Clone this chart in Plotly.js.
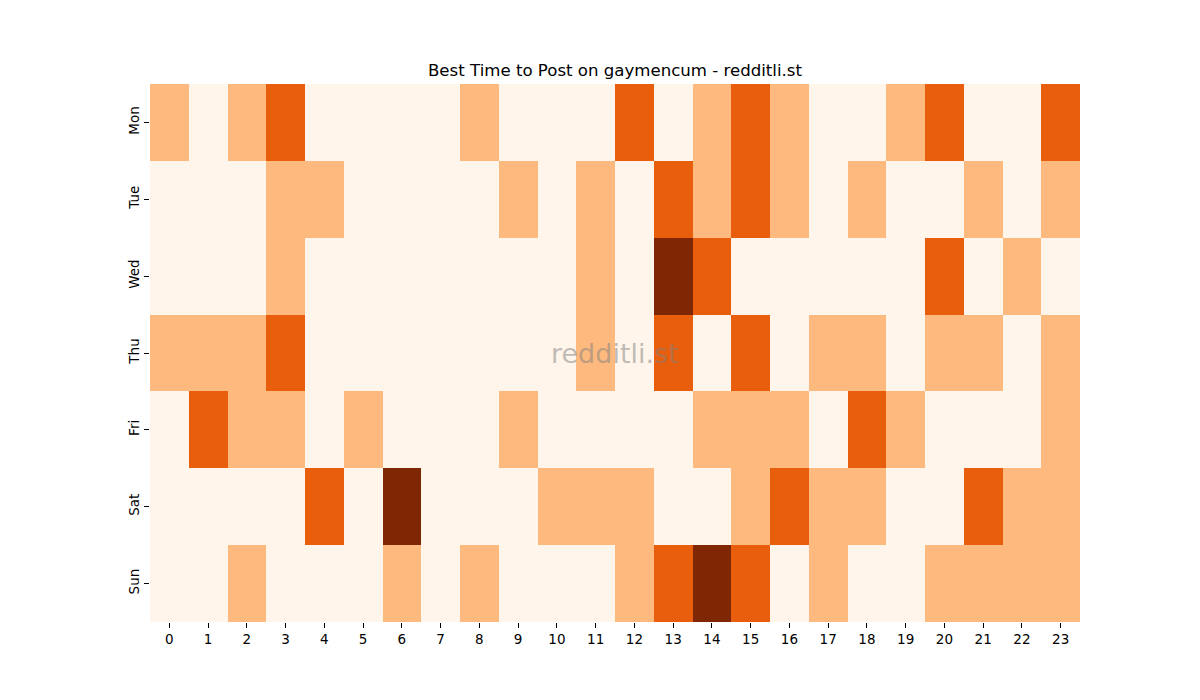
<!DOCTYPE html>
<html>
<head>
<meta charset="utf-8">
<script src="https://cdn.plot.ly/plotly-3.0.1.min.js"></script>
<style>
    body { margin: 0; background: #fff; }
    #graph { width: 1200px; height: 700px; }
</style>
</head>
<body>
<div id="graph"></div>
<script>
/* hours of the day and weekdays */
const hours = ["0", "1", "2", "3", "4", "5", "6", "7", "8", "9", "10", "11",
    "12", "13", "14", "15", "16", "17", "18", "19", "20", "21", "22", "23"];
const days = ["Mon", "Tue", "Wed", "Thu", "Fri", "Sat", "Sun"];

/* activity level per hour, 0 = low ... 3 = best */
const mon = [1, 0, 1, 2, 0, 0, 0, 0, 1, 0, 0, 0, 2, 0, 1, 2, 1, 0, 0, 1, 2, 0, 0, 2];
const tue = [0, 0, 0, 1, 1, 0, 0, 0, 0, 1, 0, 1, 0, 2, 1, 2, 1, 0, 1, 0, 0, 1, 0, 1];
const wed = [0, 0, 0, 1, 0, 0, 0, 0, 0, 0, 0, 1, 0, 3, 2, 0, 0, 0, 0, 0, 2, 0, 1, 0];
const thu = [1, 1, 1, 2, 0, 0, 0, 0, 0, 0, 0, 1, 0, 2, 0, 2, 0, 1, 1, 0, 1, 1, 0, 1];
const fri = [0, 2, 1, 1, 0, 1, 0, 0, 0, 1, 0, 0, 0, 0, 1, 1, 1, 0, 2, 1, 0, 0, 0, 1];
const sat = [0, 0, 0, 0, 2, 0, 3, 0, 0, 0, 1, 1, 1, 0, 0, 1, 2, 1, 1, 0, 0, 2, 1, 1];
const sun = [0, 0, 1, 0, 0, 0, 1, 0, 1, 0, 0, 0, 1, 2, 3, 2, 0, 1, 0, 0, 1, 1, 1, 1];

const font = "DejaVu Sans, sans-serif";

const trace = {
    type: "heatmap",
    x: hours,
    y: days,
    z: [mon, tue, wed, thu, fri, sat, sun],
    zmin: 0,
    zmax: 3,
    colorscale: [
        [0, "#fff5eb"],
        [1 / 3, "#fdb97e"],
        [2 / 3, "#e95e0d"],
        [1, "#7f2704"],
    ],
    showscale: false,
};

const layout = {
    width: 1200,
    height: 700,
    margin: { l: 150, r: 120, t: 84, b: 78 },
    paper_bgcolor: "#ffffff",
    plot_bgcolor: "#ffffff",
    font: { family: font, size: 13, color: "#000" },
    title: {
        text: "Best Time to Post on gaymencum - redditli.st",
        font: { family: font, size: 16.6, color: "#000" },
        xref: "paper",
        x: 0.5,
        xanchor: "center",
        yref: "container",
        y: 1 - 70 / 700,
        yanchor: "middle",
    },
    xaxis: {
        type: "category",
        ticks: "outside",
        ticklen: 5,
        tickcolor: "#000",
        showgrid: false,
        zeroline: false,
        showline: false,
        tickfont: { family: font, size: 13.5 },
    },
    yaxis: {
        type: "category",
        autorange: "reversed",
        ticks: "outside",
        ticklen: 5,
        tickcolor: "#000",
        tickangle: -90,
        showgrid: false,
        zeroline: false,
        showline: false,
        tickfont: { family: font, size: 13.5 },
    },
    annotations: [
        {
            text: "redditli.st",
            xref: "paper",
            yref: "paper",
            x: 0.5,
            y: 0.5,
            xanchor: "center",
            yanchor: "middle",
            showarrow: false,
            font: { family: font, size: 27, color: "rgba(128,128,128,0.5)" },
        },
    ],
};

Plotly.newPlot("graph", [trace], layout, { displayModeBar: false, staticPlot: true });
</script>
</body>
</html>
